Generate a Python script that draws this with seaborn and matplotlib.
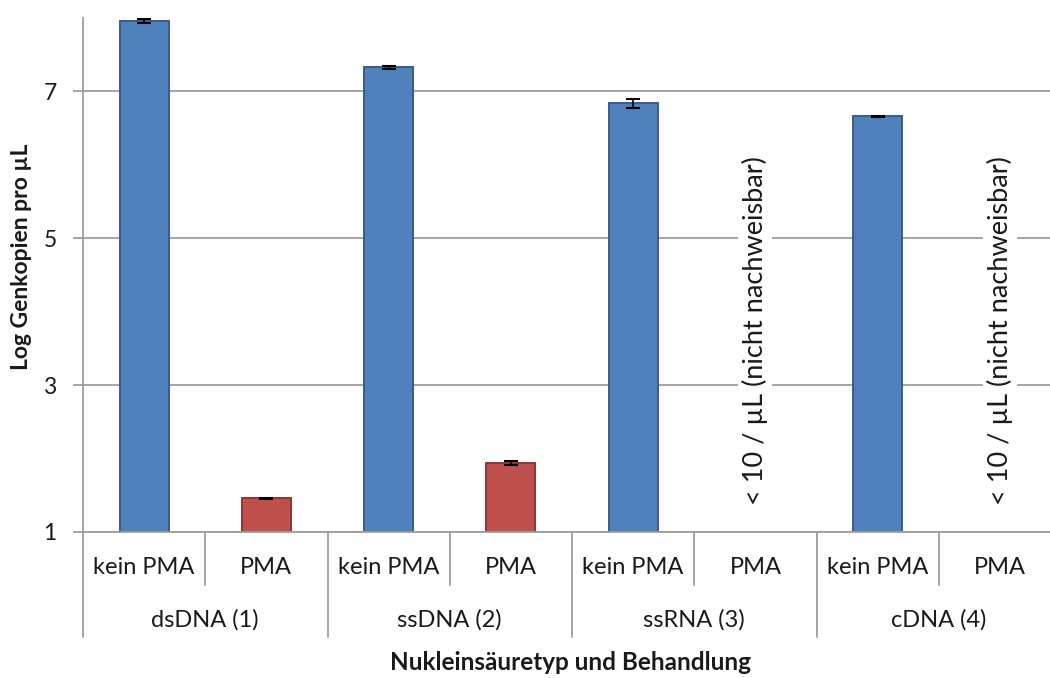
import matplotlib
matplotlib.use("Agg")
import matplotlib.pyplot as plt
import matplotlib.transforms as mtransforms
import seaborn as sns
import numpy as np
import pandas as pd

# ---- data ----
groups = ["dsDNA (1)", "ssDNA (2)", "ssRNA (3)", "cDNA (4)"]
treatments = ["kein PMA", "PMA"]
values = [7.96, 1.46, 7.33, 1.94, 6.84, np.nan, 6.66, np.nan]
errors = [0.03, 0.005, 0.02, 0.03, 0.06, 0.0, 0.01, 0.0]
not_detected_text = "< 10 / µL (nicht nachweisbar)"
ylabel = "Log Genkopien pro µL"
xlabel = "Nukleinsäuretyp und Behandlung"
yticks = [1, 3, 5, 7]

slot_names = [f"{g}|{t}" for g in groups for t in treatments]
slot_treat = [t for g in groups for t in treatments]
df = pd.DataFrame({"slot": slot_names, "treat": slot_treat, "value": values})

sns.set_theme(style="white")
plt.rcParams["font.family"] = ["Lato", "DejaVu Sans"]

fig = plt.figure(figsize=(10.5, 6.78), dpi=100)
ax = fig.add_axes([83 / 1050, 1 - 532 / 678, 978 / 1050, 514 / 678])

palette = {"kein PMA": "#4F81BD", "PMA": "#C0504D"}
sns.barplot(data=df, x="slot", y="value", hue="treat", order=slot_names,
            hue_order=treatments, palette=palette, dodge=False, width=0.4,
            legend=False, ax=ax, saturation=1, errorbar=None)
edge = {"kein PMA": "#385D8A", "PMA": "#8C3836"}
for patch_cont, t in zip(ax.containers, treatments):
    for p in patch_cont:
        p.set_edgecolor(edge[t])
        p.set_linewidth(1.4)

xs = np.arange(len(slot_names))
ax.errorbar(xs, values, yerr=errors, fmt="none", ecolor="black",
            elinewidth=1.2, capsize=5, capthick=1.5, zorder=5)

ax.set_ylim(1, 8)
ax.set_xlim(-0.5, len(slot_names) - 0.5)
ax.set_yticks(yticks)
ax.set_yticklabels([str(v) for v in yticks], fontsize=16.5, color="#1a1a1a")
ax.yaxis.grid(True, color="#9e9e9e", linewidth=1.3)
ax.set_axisbelow(True)
ax.tick_params(axis="y", which="major", length=7, width=1.3, color="#9e9e9e",
               left=True, pad=12)
for s in ["top", "right"]:
    ax.spines[s].set_visible(False)
for s in ["left", "bottom"]:
    ax.spines[s].set_color("#9e9e9e")
    ax.spines[s].set_linewidth(1.3)
ax.set_xticks([])
ax.set_xlabel("")
ax.set_ylabel("")

# hierarchical x axis
trans = mtransforms.blended_transform_factory(ax.transData, fig.transFigure)
y_axis = 1 - 532 / 678
y_short = 1 - 585 / 678
y_long = 1 - 637 / 678
for i in range(len(slot_names) + 1):
    xb = i - 0.5
    y_end = y_long if i % 2 == 0 else y_short
    ax.plot([xb, xb], [y_axis, y_end], transform=trans, color="#9e9e9e",
            lw=1.3, clip_on=False)
for i, t in enumerate(slot_treat):
    ax.text(i, 1 - 568 / 678, t, transform=trans, ha="center", va="center",
            fontsize=17, color="#1a1a1a")
for j, g in enumerate(groups):
    ax.text(2 * j + 0.5, 1 - 620 / 678, g, transform=trans, ha="center",
            va="center", fontsize=17, color="#1a1a1a")

fig.text(570 / 1050, 1 - 663 / 678, xlabel, ha="center", va="center",
         fontsize=17.5, fontweight="bold", color="#1a1a1a")
fig.text(22 / 1050, 1 - 257 / 678, ylabel, ha="center", va="center",
         rotation=90, fontsize=16.5, fontweight="bold", color="#1a1a1a")

for i, v in enumerate(values):
    if np.isnan(v):
        ax.text(i, 3.74, not_detected_text, rotation=90, ha="center",
                va="center", fontsize=19.5, color="#1a1a1a",
                bbox=dict(facecolor="white", edgecolor="none", pad=3))

fig.savefig("out.png", dpi=100, facecolor="white")
